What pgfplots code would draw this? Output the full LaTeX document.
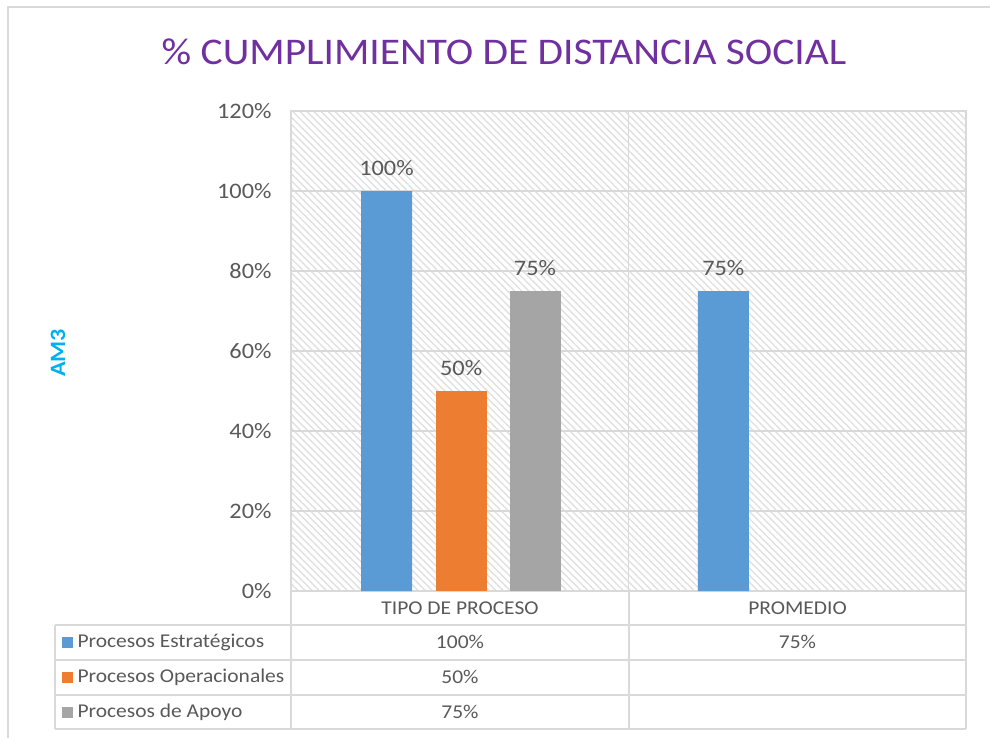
\documentclass[border=0pt]{standalone}
\usepackage{pgfplots}
\pgfplotsset{compat=1.18}
\usepackage{fontspec}
\setmainfont{Carlito}[FakeStretch=1.1]
\usetikzlibrary{patterns.meta}
\definecolor{cblue}{HTML}{5B9BD5}
\definecolor{corange}{HTML}{ED7D31}
\definecolor{cgray}{HTML}{A5A5A5}
\definecolor{txtgray}{HTML}{595959}
\definecolor{gridgray}{HTML}{D9D9D9}
\definecolor{hatch}{HTML}{E0E0E0}
\definecolor{titlepurple}{HTML}{7030A0}
\definecolor{amcyan}{HTML}{00B0F0}
\newcommand{\fs}[1]{\fontsize{#1}{#1}\selectfont}
\begin{document}
\begin{tikzpicture}[x=1bp,y=1bp]
\path[use as bounding box] (0,0) rectangle (990,-738);
\draw[gridgray, line width=1.5bp] (8,-738) -- (8,-7) -- (990,-7);
\node[text=titlepurple, font=\fs{37.8}] at (504,-52) {\% CUMPLIMIENTO DE DISTANCIA SOCIAL};
\node[text=amcyan, font=\fs{22}\bfseries, rotate=90] at (58,-353) {AM3};
\begin{axis}[
  at={(291bp,-591bp)}, anchor=south west,
  width=675bp, height=480bp, scale only axis,
  xmin=-0.5, xmax=1.5, ymin=0, ymax=120,
  ytick={0,20,...,120},
  /pgf/number format/assume math mode=true,
  yticklabel={\pgfmathprintnumber{\tick}\%},
  y tick label style={font=\fs{22.2}, text=txtgray, xshift=-16bp},
  xtick=\empty,
  extra x ticks={0.5}, extra x tick labels={},
  extra x tick style={xmajorgrids=true},
  ymajorgrids,
  major tick length=0pt,
  grid style={gridgray, line width=1.5bp},
  axis line style={gridgray, line width=1.5bp},
  axis background/.style={pattern={Lines[angle=-45,distance=5bp,line width=1.4bp]}, pattern color=hatch},
  ybar, bar width=0.151, bar shift=0pt,
  nodes near coords={\pgfmathprintnumber{\pgfplotspointmeta}\%},
  nodes near coords style={font=\fs{22.2}, text=txtgray, anchor=south, yshift=12bp},
]
\addplot[fill=cblue, draw=none] coordinates {(-0.217,100) (0.781,75)};
\addplot[fill=corange, draw=none] coordinates {(0.004,50)};
\addplot[fill=cgray, draw=none] coordinates {(0.223,75)};
\end{axis}
% data table
\begin{scope}[gridgray, line width=1.5bp]
\draw (55,-625) -- (966,-625);
\draw (55,-660) -- (966,-660);
\draw (55,-695) -- (966,-695);
\draw (55,-729) -- (966,-729);
\draw (55,-625) -- (55,-729);
\draw (291,-591) -- (291,-729);
\draw (629,-591) -- (629,-729);
\draw (966,-591) -- (966,-729);
\end{scope}
\begin{scope}[every node/.style={font=\fs{19.6}, text=txtgray}]
\node at (460,-608) {TIPO DE PROCESO};
\node at (797.5,-608) {PROMEDIO};
\node at (460,-642) {100\%};
\node at (797.5,-642) {75\%};
\node at (460,-677) {50\%};
\node at (460,-712) {75\%};
\node[anchor=west] at (74,-642) {Procesos Estratégicos};
\node[anchor=west] at (74,-677) {Procesos Operacionales};
\node[anchor=west] at (74,-712) {Procesos de Apoyo};
\end{scope}
\fill[cblue] (62,-636.5) rectangle (73,-647.5);
\fill[corange] (62,-671.5) rectangle (73,-682.5);
\fill[cgray] (62,-706.5) rectangle (73,-717.5);
\end{tikzpicture}
\end{document}
